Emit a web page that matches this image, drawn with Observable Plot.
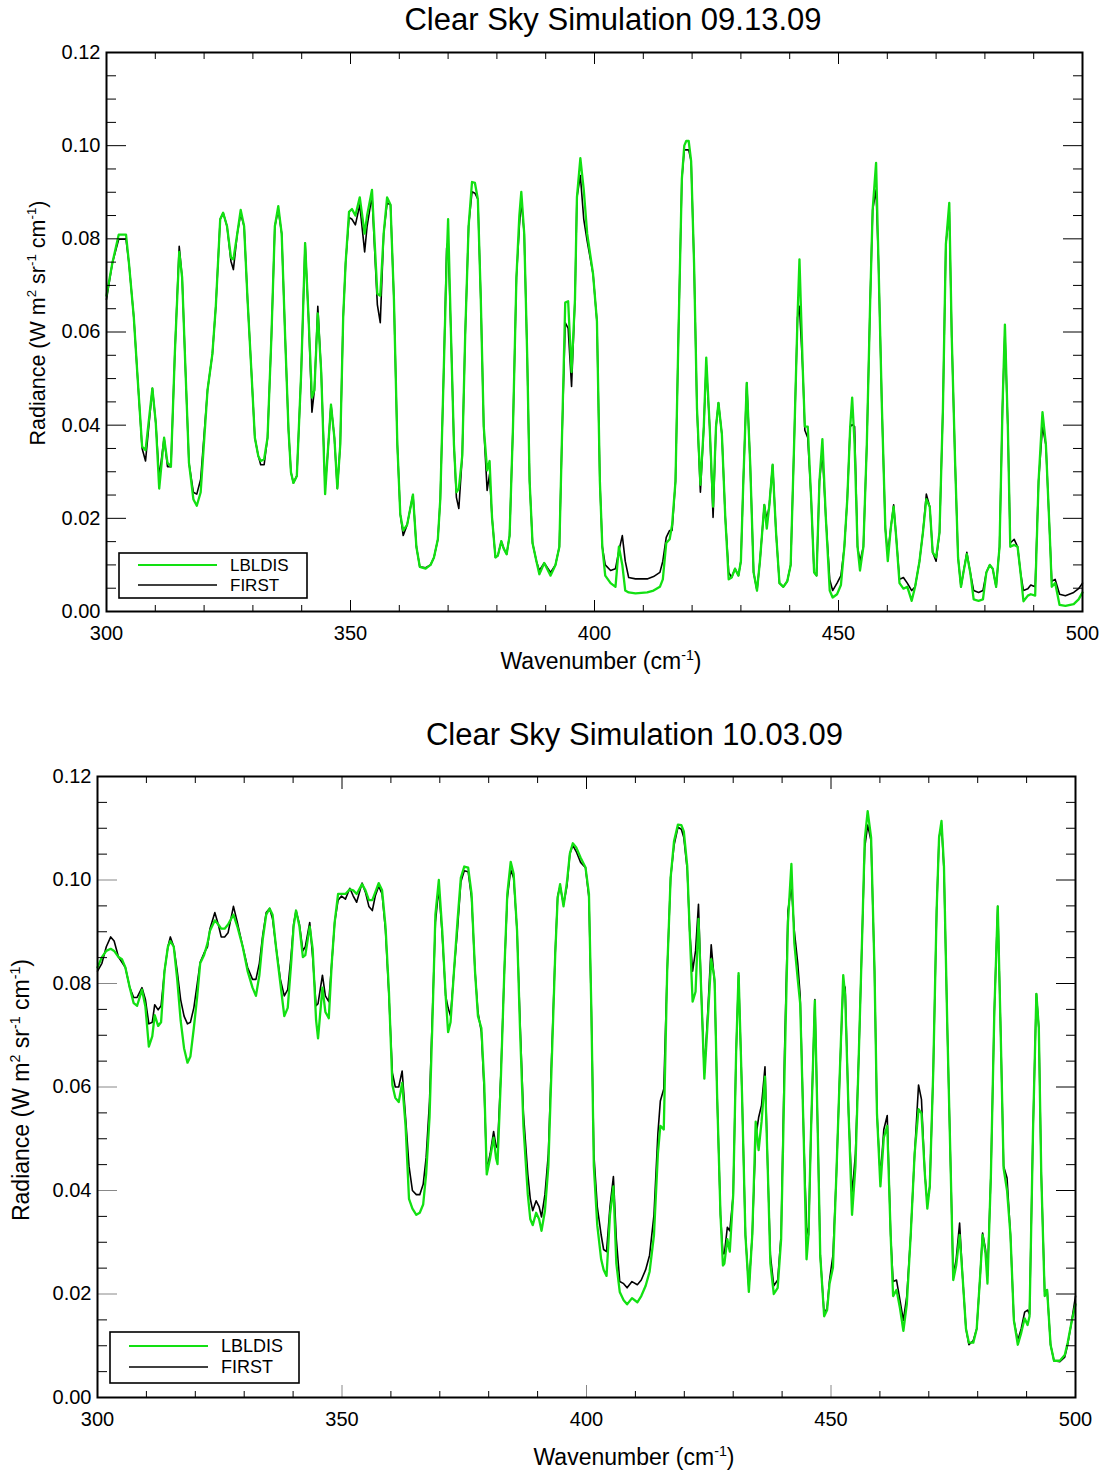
<!DOCTYPE html>
<html><head><meta charset="utf-8">
<script src="https://cdn.jsdelivr.net/npm/d3@7"></script>
<script src="https://cdn.jsdelivr.net/npm/@observablehq/plot@0.6"></script>
<style>
body{margin:0;background:#fff;}
#root svg{display:block;}
</style></head><body><div id="root"></div>
<script>
// ---------- Panel 1: Clear Sky Simulation 09.13.09 ----------
const wn1 = [300.0,301.2,302.5,304.0,304.6,305.6,306.3,307.3,308.0,309.4,
310.1,310.8,311.8,312.5,313.2,314.0,314.9,315.5,316.2,316.9,
317.8,318.5,319.3,320.7,321.7,322.4,323.3,323.9,324.7,325.5,
326.0,326.8,327.5,328.2,328.9,329.7,330.4,331.1,331.6,332.3,
333.0,333.8,334.5,335.2,335.9,336.6,337.3,337.8,338.3,339.0,
339.9,340.7,341.4,342.1,342.6,343.3,344.0,344.8,345.3,346.0,
346.7,347.3,347.9,348.5,349.0,349.7,350.3,351.0,351.9,352.9,
353.4,354.4,355.5,356.1,356.8,357.5,358.2,358.9,359.6,360.2,
360.8,361.6,362.8,363.5,364.2,365.4,366.4,367.1,367.9,368.4,
369.1,369.7,370.0,370.6,371.2,371.7,372.2,372.9,373.5,374.2,
374.9,375.5,376.1,376.7,377.3,378.0,378.5,379.0,379.7,380.2,
380.9,381.4,382.0,382.6,383.3,384.0,384.6,385.0,385.6,386.2,
386.7,387.3,388.1,388.7,389.7,391.0,392.0,392.8,393.3,394.0,
394.6,395.3,396.0,396.4,397.1,397.8,398.5,399.7,400.5,401.1,
401.6,402.2,403.3,404.3,405.0,405.7,406.3,407.0,408.4,410.8,
412.1,413.4,414.0,414.7,415.4,415.9,416.6,417.2,417.9,418.4,
418.8,419.3,419.8,420.4,421.0,421.7,422.4,422.9,423.6,424.3,
424.9,425.4,426.1,426.8,427.5,428.1,428.8,429.5,430.0,430.5,
431.2,431.9,432.6,433.3,433.9,434.8,435.3,435.8,436.5,437.2,
437.9,438.7,439.5,440.2,440.9,441.6,442.0,442.7,443.1,443.7,
444.4,445.0,445.5,446.1,446.7,447.4,448.2,448.8,449.7,450.5,
451.2,451.8,452.4,452.8,453.3,453.9,454.4,455.1,455.8,456.5,
457.0,457.7,458.2,458.9,459.6,460.1,460.7,461.3,461.8,462.5,
463.3,464.1,465.0,465.7,466.6,467.3,468.0,468.7,469.3,470.0,
470.7,471.4,472.0,472.7,473.2,473.9,474.5,475.1,475.6,476.3,
477.0,477.7,478.7,479.6,480.3,481.0,481.6,482.3,483.0,483.6,
484.1,484.7,485.2,486.0,486.7,487.3,487.9,488.8,489.4,490.3,
491.0,491.8,492.5,493.3,493.7,494.4,495.3,496.5,498.2,499.2,
500.0];
const lbldis1 = [.0678,.0748,.0809,.0809,.0748,.0631,.0514,.0354,.0346,.0479,
.0405,.0264,.0373,.0319,.0311,.0553,.0772,.0717,.0514,.0319,
.0241,.0227,.0256,.0475,.0553,.0655,.0842,.0856,.0827,.0760,
.0756,.0811,.0862,.0827,.0670,.0514,.0373,.0334,.0323,.0327,
.0373,.0592,.0827,.0870,.0811,.0592,.0389,.0299,.0276,.0291,
.0514,.0791,.0631,.0459,.0475,.0640,.0514,.0252,.0334,.0444,
.0373,.0264,.0358,.0631,.0748,.0858,.0864,.0850,.0889,.0811,
.0850,.0905,.0682,.0678,.0811,.0889,.0873,.0670,.0358,.0209,
.0174,.0186,.0251,.0139,.0096,.0092,.0100,.0116,.0155,.0241,
.0514,.0750,.0842,.0592,.0358,.0256,.0264,.0334,.0592,.0827,
.0922,.0920,.0885,.0670,.0397,.0303,.0323,.0202,.0116,.0120,
.0151,.0135,.0123,.0163,.0397,.0717,.0850,.0901,.0811,.0553,
.0280,.0147,.0108,.0080,.0104,.0077,.0100,.0139,.0358,.0663,
.0666,.0514,.0670,.0889,.0973,.0905,.0811,.0725,.0623,.0280,
.0139,.0077,.0061,.0053,.0139,.0100,.0045,.0041,.0039,.0041,
.0045,.0053,.0069,.0147,.0155,.0186,.0280,.0592,.0928,.1000,
.1010,.1010,.0967,.0748,.0436,.0272,.0397,.0545,.0397,.0225,
.0397,.0448,.0381,.0202,.0069,.0073,.0092,.0077,.0108,.0280,
.0491,.0319,.0084,.0045,.0108,.0229,.0178,.0225,.0315,.0170,
.0061,.0053,.0065,.0100,.0358,.0631,.0756,.0514,.0397,.0397,
.0241,.0084,.0077,.0280,.0370,.0202,.0045,.0030,.0037,.0057,
.0139,.0241,.0397,.0459,.0358,.0139,.0088,.0139,.0358,.0670,
.0862,.0963,.0748,.0436,.0178,.0108,.0178,.0225,.0163,.0061,
.0049,.0053,.0023,.0053,.0108,.0170,.0241,.0225,.0127,.0116,
.0170,.0436,.0788,.0877,.0592,.0319,.0116,.0053,.0084,.0123,
.0084,.0026,.0023,.0026,.0084,.0100,.0092,.0053,.0139,.0436,
.0616,.0397,.0139,.0143,.0139,.0084,.0022,.0034,.0037,.0034,
.0280,.0428,.0358,.0163,.0053,.0061,.0014,.0012,.0016,.0026,
.0041];
const first1 = [.0670,.0748,.0799,.0799,.0748,.0631,.0514,.0350,.0323,.0479,
.0405,.0288,.0373,.0311,.0311,.0553,.0784,.0717,.0514,.0319,
.0256,.0252,.0284,.0475,.0553,.0655,.0842,.0856,.0827,.0752,
.0734,.0811,.0854,.0827,.0670,.0514,.0373,.0334,.0315,.0315,
.0373,.0592,.0827,.0862,.0811,.0592,.0389,.0299,.0276,.0291,
.0514,.0791,.0631,.0428,.0475,.0655,.0514,.0268,.0334,.0444,
.0373,.0264,.0358,.0631,.0748,.0846,.0842,.0830,.0873,.0772,
.0827,.0893,.0659,.0620,.0811,.0877,.0873,.0670,.0358,.0209,
.0163,.0186,.0251,.0139,.0096,.0094,.0100,.0116,.0155,.0241,
.0514,.0780,.0795,.0592,.0358,.0245,.0221,.0334,.0592,.0827,
.0901,.0898,.0885,.0670,.0397,.0260,.0295,.0202,.0116,.0120,
.0151,.0135,.0123,.0163,.0397,.0717,.0827,.0881,.0811,.0553,
.0280,.0147,.0108,.0088,.0104,.0084,.0100,.0139,.0358,.0620,
.0608,.0483,.0670,.0889,.0936,.0842,.0795,.0725,.0623,.0280,
.0139,.0100,.0088,.0092,.0130,.0163,.0108,.0073,.0070,.0070,
.0075,.0084,.0108,.0159,.0174,.0174,.0280,.0592,.0928,.0991,
.0991,.0991,.0967,.0748,.0436,.0256,.0397,.0530,.0397,.0202,
.0397,.0448,.0381,.0202,.0084,.0073,.0092,.0077,.0108,.0280,
.0491,.0319,.0084,.0045,.0108,.0229,.0198,.0225,.0315,.0170,
.0061,.0053,.0065,.0100,.0358,.0631,.0655,.0514,.0389,.0373,
.0241,.0084,.0077,.0280,.0342,.0202,.0069,.0045,.0061,.0077,
.0139,.0241,.0397,.0401,.0397,.0139,.0108,.0139,.0358,.0670,
.0862,.0905,.0748,.0436,.0178,.0123,.0178,.0229,.0163,.0069,
.0073,.0061,.0045,.0053,.0108,.0170,.0252,.0225,.0127,.0108,
.0170,.0436,.0788,.0858,.0592,.0319,.0116,.0053,.0084,.0127,
.0084,.0045,.0041,.0045,.0084,.0100,.0092,.0053,.0139,.0436,
.0600,.0397,.0147,.0155,.0139,.0084,.0045,.0049,.0057,.0053,
.0280,.0397,.0358,.0163,.0065,.0069,.0037,.0034,.0041,.0049,
.0061];

// ---------- Panel 2: Clear Sky Simulation 10.03.09 ----------
const wn2 = [300.0,300.9,301.8,302.7,303.4,304.3,305.0,305.7,306.6,307.4,
308.1,309.1,309.8,310.5,311.2,311.7,312.4,313.0,313.7,314.4,
314.9,315.6,316.3,317.0,317.7,318.4,319.0,319.7,320.4,321.0,
321.8,322.5,323.0,324.0,324.7,325.3,326.0,326.7,327.8,328.6,
329.7,330.7,331.7,332.4,333.1,333.8,334.5,335.2,335.8,336.5,
337.4,338.2,338.9,339.6,340.1,340.6,341.3,342.0,342.5,343.4,
344.0,344.7,345.1,346.0,346.6,347.3,347.9,348.5,349.2,349.9,
350.7,351.6,352.3,353.0,354.1,354.8,355.5,356.2,356.8,357.5,
358.2,358.9,359.6,360.3,360.9,361.6,362.3,363.0,363.7,364.4,
365.2,365.9,366.6,367.2,367.9,368.5,369.1,369.8,370.5,371.2,
371.7,372.2,372.9,373.6,374.3,375.0,375.8,376.5,377.2,377.8,
378.5,379.1,379.6,380.3,381.0,381.5,381.8,382.5,383.2,383.8,
384.5,385.1,385.8,386.4,387.1,388.0,388.5,389.0,389.7,390.3,
390.8,391.5,392.2,392.9,393.6,394.1,394.6,395.3,396.0,396.6,
397.2,397.9,398.8,399.8,400.5,401.0,401.5,402.2,403.0,403.5,
404.1,404.8,405.5,406.1,406.8,407.6,408.3,409.3,410.4,411.2,
412.1,412.9,413.8,414.6,415.1,415.8,416.5,417.2,417.9,418.7,
419.4,419.9,420.6,421.1,421.7,422.3,422.9,423.5,424.1,424.8,
425.5,426.2,426.7,427.4,427.9,428.2,428.8,429.3,430.0,430.6,
431.1,431.8,432.5,433.2,433.9,434.6,435.2,435.8,436.5,437.1,
437.6,438.3,439.1,439.8,440.5,441.2,441.9,442.5,443.2,443.7,
444.4,445.0,445.4,445.9,446.7,447.3,447.8,448.6,449.2,449.7,
450.4,451.1,451.8,452.5,452.9,453.6,454.3,455.0,455.7,456.4,
456.9,457.5,458.2,458.9,459.4,460.1,460.8,461.5,462.2,462.7,
463.4,464.1,464.8,465.5,466.3,467.1,467.9,468.5,469.2,469.7,
470.2,470.9,471.6,472.1,472.6,473.1,473.8,474.5,475.0,475.6,
476.3,476.9,477.6,478.2,479.1,479.8,480.5,481.0,481.6,482.0,
482.7,483.4,484.1,484.7,485.3,486.0,486.7,487.4,488.2,488.9,
489.6,490.2,490.6,491.3,492.0,492.5,493.0,493.7,494.2,494.9,
495.6,496.8,497.8,498.4,499.1,500.0];
const lbldis2 = [.0831,.0851,.0863,.0867,.0863,.0851,.0847,.0831,.0792,.0762,
.0757,.0788,.0755,.0678,.0698,.0739,.0718,.0725,.0824,.0871,
.0882,.0871,.0808,.0729,.0675,.0647,.0659,.0714,.0776,.0839,
.0855,.0878,.0902,.0922,.0914,.0906,.0906,.0914,.0933,.0910,
.0871,.0824,.0792,.0776,.0816,.0886,.0933,.0945,.0933,.0871,
.0800,.0737,.0753,.0839,.0910,.0941,.0910,.0851,.0855,.0910,
.0867,.0729,.0694,.0792,.0745,.0733,.0839,.0918,.0973,.0973,
.0973,.0982,.0980,.0973,.0992,.0980,.0961,.0961,.0976,.0994,
.0980,.0910,.0784,.0604,.0579,.0571,.0608,.0525,.0384,.0365,
.0353,.0357,.0373,.0431,.0541,.0729,.0933,.1000,.0902,.0776,
.0706,.0725,.0824,.0918,.1004,.1026,.1024,.0973,.0824,.0737,
.0714,.0604,.0431,.0463,.0502,.0463,.0451,.0620,.0824,.0973,
.1035,.1012,.0902,.0714,.0525,.0392,.0345,.0333,.0357,.0345,
.0322,.0361,.0447,.0651,.0855,.0965,.0992,.0949,.0996,.1051,
.1071,.1063,.1043,.1024,.0973,.0745,.0447,.0333,.0267,.0247,
.0235,.0353,.0408,.0259,.0204,.0188,.0180,.0192,.0184,.0196,
.0216,.0243,.0314,.0471,.0525,.0518,.0824,.1004,.1075,.1107,
.1106,.1094,.1027,.0902,.0765,.0784,.0925,.0776,.0616,.0729,
.0847,.0808,.0588,.0353,.0255,.0259,.0306,.0282,.0392,.0667,
.0820,.0588,.0314,.0204,.0314,.0533,.0478,.0533,.0620,.0431,
.0259,.0200,.0212,.0306,.0627,.0918,.1031,.0878,.0808,.0761,
.0510,.0267,.0314,.0510,.0767,.0510,.0275,.0157,.0169,.0220,
.0251,.0431,.0627,.0816,.0776,.0549,.0353,.0447,.0667,.0902,
.1078,.1133,.1082,.0824,.0549,.0408,.0502,.0525,.0314,.0196,
.0208,.0173,.0129,.0180,.0314,.0471,.0557,.0549,.0431,.0365,
.0408,.0627,.0941,.1082,.1114,.1027,.0710,.0431,.0227,.0255,
.0314,.0235,.0133,.0106,.0106,.0133,.0235,.0314,.0278,.0220,
.0431,.0745,.0949,.0706,.0443,.0400,.0314,.0149,.0102,.0125,
.0153,.0140,.0157,.0510,.0780,.0714,.0431,.0196,.0208,.0102,
.0071,.0071,.0082,.0106,.0141,.0180];
const first2 = [.0824,.0839,.0871,.0890,.0882,.0851,.0841,.0831,.0792,.0773,
.0773,.0792,.0769,.0722,.0725,.0759,.0749,.0757,.0824,.0871,
.0890,.0871,.0824,.0769,.0737,.0722,.0725,.0753,.0800,.0841,
.0859,.0871,.0906,.0937,.0914,.0890,.0890,.0898,.0949,.0918,
.0871,.0831,.0808,.0808,.0839,.0894,.0937,.0945,.0925,.0871,
.0808,.0776,.0788,.0855,.0914,.0941,.0914,.0863,.0871,.0918,
.0851,.0757,.0761,.0816,.0776,.0765,.0839,.0918,.0961,.0969,
.0963,.0984,.0969,.0957,.0994,.0976,.0949,.0941,.0969,.0988,
.0973,.0902,.0776,.0627,.0600,.0600,.0631,.0541,.0447,.0400,
.0392,.0392,.0412,.0463,.0573,.0745,.0918,.0984,.0894,.0776,
.0753,.0737,.0824,.0902,.0996,.1018,.1016,.0965,.0824,.0745,
.0706,.0588,.0439,.0471,.0514,.0486,.0482,.0627,.0824,.0965,
.1020,.1004,.0902,.0729,.0549,.0431,.0384,.0361,.0380,.0369,
.0349,.0392,.0471,.0667,.0859,.0969,.0988,.0953,.0988,.1051,
.1067,.1055,.1034,.1024,.0965,.0745,.0471,.0369,.0314,.0286,
.0282,.0369,.0427,.0306,.0224,.0220,.0212,.0224,.0218,.0227,
.0247,.0275,.0353,.0510,.0573,.0596,.0824,.1004,.1067,.1102,
.1098,.1082,.1020,.0902,.0824,.0863,.0953,.0776,.0627,.0745,
.0875,.0800,.0588,.0353,.0278,.0278,.0329,.0322,.0392,.0667,
.0816,.0588,.0314,.0212,.0314,.0502,.0541,.0565,.0639,.0431,
.0275,.0216,.0227,.0314,.0667,.0941,.0988,.0902,.0839,.0776,
.0510,.0329,.0314,.0510,.0769,.0510,.0275,.0161,.0173,.0227,
.0275,.0431,.0627,.0800,.0792,.0549,.0392,.0471,.0667,.0902,
.1063,.1106,.1075,.0824,.0549,.0424,.0518,.0545,.0314,.0224,
.0227,.0188,.0149,.0196,.0314,.0471,.0604,.0576,.0431,.0376,
.0408,.0627,.0941,.1082,.1106,.1020,.0710,.0431,.0235,.0267,
.0337,.0235,.0133,.0102,.0110,.0133,.0235,.0318,.0286,.0235,
.0431,.0745,.0949,.0706,.0447,.0424,.0314,.0149,.0110,.0133,
.0165,.0169,.0161,.0510,.0780,.0714,.0431,.0204,.0208,.0102,
.0071,.0069,.0078,.0102,.0141,.0196];

// ---------- Axes / legend definitions ----------
const xMajor = [300, 350, 400, 450, 500];
const xMinor = [310,320,330,340,360,370,380,390,410,420,430,440,460,470,480,490];
const yMajor = [0.00, 0.02, 0.04, 0.06, 0.08, 0.10, 0.12];
const yMinor = [0.005,0.010,0.015,0.025,0.030,0.035,0.045,0.050,0.055,0.065,0.070,0.075,0.085,0.090,0.095,0.105,0.110,0.115];
const seriesNames = ["LBLDIS", "FIRST"];
const seriesColors = ["#12e012", "#000000"];
const titles = ["Clear Sky Simulation 09.13.09", "Clear Sky Simulation 10.03.09"];

[[wn1,lbldis1,first1],[wn2,lbldis2,first2]].forEach(([a,b,c],k)=>{
  if (a.length!==b.length || a.length!==c.length) throw new Error(`panel ${k+1} lengths ${a.length} ${b.length} ${c.length}`);
});

const FONT = '"Liberation Sans", Arial, Helvetica, sans-serif';

function rich(textSel, parts, fs) {
  const shift = fs * 0.4;
  let up = false;
  parts.forEach(([t, sup]) => {
    const ts = textSel.append("tspan").text(t);
    if (sup) {
      ts.attr("font-size", fs * 0.62);
      if (!up) { ts.attr("dy", -shift); up = true; }
    } else if (up) { ts.attr("dy", shift); up = false; }
  });
}

function makePanel(p) {
  const lbl = p.wn.map((w, i) => ({wn: w, rad: p.lbldis[i]}));
  const fst = p.wn.map((w, i) => ({wn: w, rad: p.first[i]}));
  const blank = () => "";
  const plot = Plot.plot({
    width: 1105, height: p.height,
    marginTop: p.mt, marginBottom: p.mb, marginLeft: p.ml, marginRight: p.mr,
    style: {fontFamily: FONT, fontSize: "20px", color: "#000", background: "#fff", overflow: "visible"},
    x: {domain: [300, 500], label: null},
    y: {domain: [0, 0.12], label: null},
    marks: [
      Plot.line(fst, {x: "wn", y: "rad", stroke: seriesColors[1], strokeWidth: 1.6}),
      Plot.line(lbl, {x: "wn", y: "rad", stroke: seriesColors[0], strokeWidth: 2.3}),
      Plot.axisY(yMinor, {anchor: "left", tickSize: -p.yMinorLen, tickFormat: blank, label: null}),
      Plot.axisY(yMinor, {anchor: "right", tickSize: -p.yMinorLen, tickFormat: blank, label: null}),
      Plot.axisY(yMajor, {anchor: "left", tickSize: -p.yMajorLen, stroke: p.majorColor, tickFormat: blank, label: null}),
      Plot.axisY(yMajor, {anchor: "right", tickSize: -p.yMajorLen, tickFormat: blank, label: null}),
      Plot.axisY(yMajor, {anchor: "left", tickSize: 0, tickPadding: p.yPad, tickFormat: d3.format(".2f"), label: null}),
      Plot.axisX(xMinor, {anchor: "bottom", tickSize: -p.xMinorLen, tickFormat: blank, label: null}),
      Plot.axisX(xMinor, {anchor: "top", tickSize: -p.xMinorLen, tickFormat: blank, label: null}),
      Plot.axisX(xMajor, {anchor: "bottom", tickSize: -p.xMajorLen, stroke: p.majorColor, tickFormat: blank, label: null}),
      Plot.axisX(xMajor, {anchor: "top", tickSize: -p.xMajorLen, tickFormat: blank, label: null}),
      Plot.axisX(xMajor, {anchor: "bottom", tickSize: 0, tickPadding: p.xPad, tickFormat: d => String(d), label: null}),
      Plot.frame({stroke: "#000", strokeWidth: 2})
    ]
  });
  const svg = d3.select(plot);
  // title
  svg.append("text").attr("x", p.titleX).attr("y", p.titleY)
    .attr("text-anchor", "middle").attr("font-size", 31).attr("fill", "#000")
    .attr("font-family", FONT).text(p.title);
  // x label
  const xl = svg.append("text").attr("x", p.xlX).attr("y", p.xlY)
    .attr("text-anchor", "middle").attr("font-size", p.xlFs).attr("fill", "#000").attr("font-family", FONT);
  rich(xl, [["Wavenumber (cm"], ["-1", true], [")"]], p.xlFs);
  // y label
  const yl = svg.append("text").attr("transform", `translate(${p.ylX},${p.ylY}) rotate(-90)`)
    .attr("text-anchor", "middle").attr("font-size", p.ylFs).attr("fill", "#000").attr("font-family", FONT);
  rich(yl, [["Radiance (W m"], ["2", true], [" sr"], ["-1", true], [" cm"], ["-1", true], [")"]], p.ylFs);
  // legend
  const L = p.legend;
  const g = svg.append("g").attr("text-anchor", "start");
  g.append("rect").attr("x", L.x).attr("y", L.y).attr("width", L.w).attr("height", L.h)
    .attr("fill", "#fff").attr("stroke", "#000").attr("stroke-width", 1.6);
  seriesNames.forEach((name, i) => {
    g.append("line").attr("x1", L.lx1).attr("x2", L.lx2).attr("y1", L.ys[i]).attr("y2", L.ys[i])
      .attr("stroke", seriesColors[i]).attr("stroke-width", i === 0 ? 2 : 1.6);
    g.append("text").attr("x", L.tx).attr("y", L.ys[i]).attr("dy", "0.35em").attr("font-size", L.fs)
      .attr("text-anchor", "start")
      .attr("fill", "#000").attr("font-family", FONT).text(name);
  });
  return plot;
}

const root = document.getElementById("root");
root.appendChild(makePanel({
  wn: wn1, lbldis: lbldis1, first: first1, title: titles[0],
  height: 700, mt: 52, mb: 89, ml: 106, mr: 23,
  yMajorLen: 20, yMinorLen: 10, xMajorLen: 11, xMinorLen: 6, majorColor: "#000",
  yPad: 6, xPad: 14,
  titleX: 613, titleY: 30,
  xlX: 601, xlY: 669, xlFs: 23,
  ylX: 45, ylY: 323, ylFs: 21.5,
  legend: {x: 119, y: 553, w: 188, h: 45, lx1: 138, lx2: 217, ys: [565, 585], tx: 230, fs: 17}
}));
root.appendChild(makePanel({
  wn: wn2, lbldis: lbldis2, first: first2, title: titles[1],
  height: 771, mt: 76, mb: 74, ml: 97, mr: 30,
  yMajorLen: 20, yMinorLen: 10, xMajorLen: 12, xMinorLen: 6, majorColor: "#888",
  yPad: 6, xPad: 14,
  titleX: 634.5, titleY: 45,
  xlX: 634, xlY: 765, xlFs: 23,
  ylX: 29, ylY: 390, ylFs: 23,
  legend: {x: 110, y: 632, w: 189, h: 51, lx1: 129, lx2: 208, ys: [646, 667], tx: 221, fs: 18}
}));
</script>
</body></html>
